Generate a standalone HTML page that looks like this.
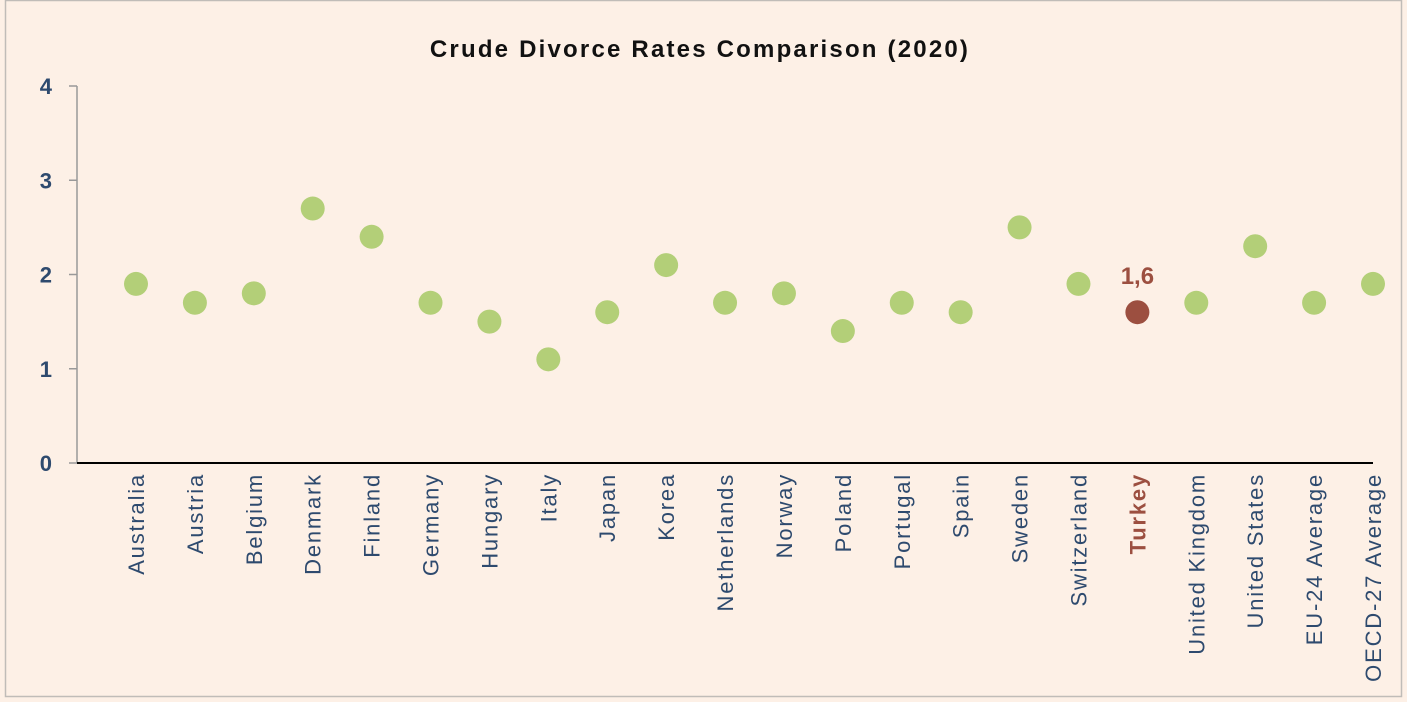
<!DOCTYPE html>
<html><head><meta charset="utf-8"><style>
body{margin:0;background:#fff;}
svg{display:block;font-family:"Liberation Sans",sans-serif;}
</style></head><body>
<svg width="1407" height="702" viewBox="0 0 1407 702">
<rect x="0" y="0" width="1407" height="702" fill="#fdf0e6"/>
<rect x="5.5" y="0.5" width="1396" height="696" fill="none" stroke="#c0bcb8" stroke-width="1.5"/>
<text x="700" y="57" text-anchor="middle" font-size="24" font-weight="bold" letter-spacing="2.2" fill="#111">Crude Divorce Rates Comparison (2020)</text>
<g id="yaxis"></g>
<g id="marks"></g>
<g id="xlabels"></g>
</svg>
<script>
const categories=["Australia","Austria","Belgium","Denmark","Finland","Germany","Hungary","Italy","Japan","Korea","Netherlands","Norway","Poland","Portugal","Spain","Sweden","Switzerland","Turkey","United Kingdom","United States","EU-24 Average","OECD-27 Average"];
const values=[1.9,1.7,1.8,2.7,2.4,1.7,1.5,1.1,1.6,2.1,1.7,1.8,1.4,1.7,1.6,2.5,1.9,1.6,1.7,2.3,1.7,1.9];
const yTicks=[0,1,2,3,4];
const highlight="Turkey";
const highlightLabel="1,6";
const NS="http://www.w3.org/2000/svg";
const y0=463,y1=86,yMax=4;
const y=v=>y0-(v/yMax)*(y0-y1);
const x0=136,x1=1373;
const x=i=>x0+i*(x1-x0)/(categories.length-1);
function mk(tag,attrs,parent){const e=document.createElementNS(NS,tag);for(const k in attrs)e.setAttribute(k,attrs[k]);parent.appendChild(e);return e;}
const ya=document.getElementById('yaxis');
let l=mk('line',{x1:77,y1:y(yMax),x2:77,y2:y0,stroke:'#999','stroke-width':1.5},ya);


yTicks.forEach(t=>{
 const tk=mk('line',{x1:69,y1:y(t),x2:77,y2:y(t),stroke:'#999','stroke-width':1.5},ya);
 
 
 const tx=mk('text',{x:52,y:y(t)+8,'text-anchor':'end','font-size':22,'font-weight':'bold',fill:'#2e4a6e'},ya);
 tx.textContent=t;
 
 
});
const xa=mk('line',{x1:77,y1:y0,x2:x1,y2:y0,stroke:'#000','stroke-width':2},ya);


const mg=document.getElementById('marks');
const xl=document.getElementById('xlabels');
categories.forEach((c,i)=>{
 const hi=c===highlight;
 const d=mk('circle',{cx:x(i),cy:y(values[i]),r:12,fill:hi?'#9c4f40':'#b3cf78'},mg);
 
 
 if(hi){
  const lb=mk('text',{x:x(i),y:y(values[i])-28,'text-anchor':'middle','font-size':24,'font-weight':'bold',fill:'#9c4f40'},mg);
  lb.textContent=highlightLabel;
  
  
 }
 const t=mk('text',{transform:`translate(${x(i)+8},473) rotate(-90)`,'text-anchor':'end','font-size':22,'letter-spacing':1.8,'font-weight':hi?'bold':'normal',fill:hi?'#9c4f40':'#2e4a6e'},xl);
 t.textContent=c;
 
 
});
</script>
</body></html>
